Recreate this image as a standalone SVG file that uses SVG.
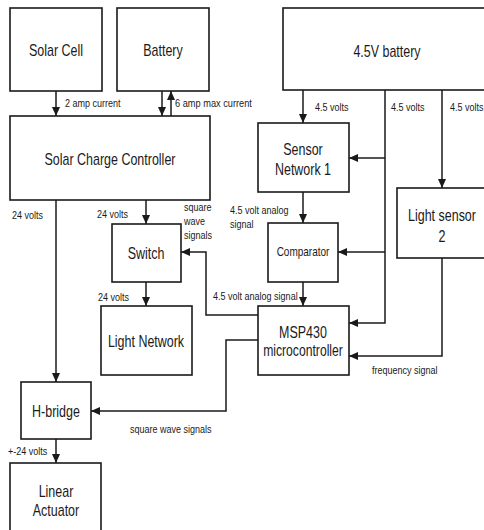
<svg xmlns="http://www.w3.org/2000/svg" width="484" height="530" viewBox="0 0 484 530">
<defs>
<style>
.box{fill:#fff;stroke:#1a1a1a;stroke-width:1.6}
.t{font-family:"Liberation Sans",Arial,sans-serif;font-size:16px;fill:#1a1a1a;text-anchor:middle}
.l{font-family:"Liberation Sans",Arial,sans-serif;font-size:11px;fill:#1a1a1a}
.c{fill:none;stroke:#1a1a1a;stroke-width:1.5}
.a{marker-end:url(#ah)}
</style>
<marker id="ah" markerUnits="userSpaceOnUse" markerWidth="10" markerHeight="10" viewBox="0 0 10 10" refX="9" refY="5" orient="auto">
<path d="M0,1 L9,5 L0,9 Z" fill="#1a1a1a"/>
</marker>
</defs>
<rect width="484" height="530" fill="#fff"/>
<g id="connectors">
<path class="c a" d="M56,91 V116"/>
<path class="c a" d="M162,91 V116"/>
<path class="c a" d="M171,116 V91"/>
<path class="c a" d="M303,90 V123"/>
<path class="c a" d="M385,90 V323 H349"/>
<path class="c a" d="M385,158 H349"/>
<path class="c a" d="M385,252 H338"/>
<path class="c a" d="M442,90 V188"/>
<path class="c a" d="M303,192 V223"/>
<path class="c a" d="M303,282 V306"/>
<path class="c a" d="M442,258 V356 H349"/>
<path class="c a" d="M258,315 H206 V252 H181"/>
<path class="c a" d="M146,200 V224"/>
<path class="c a" d="M146,282 V306"/>
<path class="c a" d="M56,200 V382"/>
<path class="c a" d="M258,340 H226 V411 H91"/>
<path class="c a" d="M56,439 V463"/>
</g>
<g id="labels">
<text class="l" transform="translate(65,107) scale(0.82,1)">2 amp current</text>
<text class="l" transform="translate(175,107) scale(0.84,1)">6 amp max current</text>
<text class="l" transform="translate(315,111) scale(0.82,1)">4.5 volts</text>
<text class="l" transform="translate(391,111) scale(0.82,1)">4.5 volts</text>
<text class="l" transform="translate(450,111) scale(0.82,1)">4.5 volts</text>
<text class="l" transform="translate(12,219) scale(0.82,1)">24 volts</text>
<text class="l" transform="translate(97,218) scale(0.82,1)">24 volts</text>
<text class="l" transform="translate(184,211) scale(0.82,1)">square</text>
<text class="l" transform="translate(184,225) scale(0.82,1)">wave</text>
<text class="l" transform="translate(184,239) scale(0.82,1)">signals</text>
<text class="l" transform="translate(230,214) scale(0.82,1)">4.5 volt analog</text>
<text class="l" transform="translate(230,228) scale(0.82,1)">signal</text>
<text class="l" transform="translate(98,301) scale(0.82,1)">24 volts</text>
<text class="l" transform="translate(213,300) scale(0.82,1)">4.5 volt analog signal</text>
<text class="l" transform="translate(372,374) scale(0.82,1)">frequency signal</text>
<text class="l" transform="translate(130,433) scale(0.82,1)">square wave signals</text>
<text class="l" transform="translate(8,455) scale(0.82,1)">+-24 volts</text>
</g>
<g id="solar-cell"><rect class="box" x="10" y="8" width="92" height="83"/><text class="t" transform="translate(56,56) scale(0.78,1)">Solar Cell</text></g>
<g id="battery"><rect class="box" x="117" y="8" width="92" height="83"/><text class="t" transform="translate(163,56) scale(0.78,1)">Battery</text></g>
<g id="battery-45v"><rect class="box" x="283" y="8" width="210" height="82"/><text class="t" transform="translate(387,57) scale(0.78,1)">4.5V battery</text></g>
<g id="solar-charge-controller"><rect class="box" x="10" y="116" width="200" height="84"/><text class="t" transform="translate(110,165) scale(0.78,1)">Solar Charge Controller</text></g>
<g id="sensor-network-1"><rect class="box" x="258" y="123" width="91" height="69"/><text class="t" transform="translate(303,155) scale(0.78,1)">Sensor</text><text class="t" transform="translate(303,175) scale(0.78,1)">Network 1</text></g>
<g id="light-sensor-2"><rect class="box" x="397" y="188" width="96" height="70"/><text class="t" transform="translate(442,221) scale(0.78,1)">Light sensor</text><text class="t" transform="translate(442,242) scale(0.78,1)">2</text></g>
<g id="comparator"><rect class="box" x="268" y="223" width="70" height="59"/><text class="t" style="font-size:12.5px" transform="translate(303,256) scale(0.8,1)">Comparator</text></g>
<g id="switch"><rect class="box" x="112" y="224" width="69" height="58"/><text class="t" transform="translate(146,259) scale(0.78,1)">Switch</text></g>
<g id="light-network"><rect class="box" x="101" y="306" width="91" height="69"/><text class="t" transform="translate(146,347) scale(0.78,1)">Light Network</text></g>
<g id="msp430"><rect class="box" x="258" y="306" width="91" height="69"/><text class="t" transform="translate(303,338) scale(0.78,1)">MSP430</text><text class="t" transform="translate(303,356) scale(0.76,1)">microcontroller</text></g>
<g id="h-bridge"><rect class="box" x="21" y="382" width="70" height="57"/><text class="t" transform="translate(56,417) scale(0.78,1)">H-bridge</text></g>
<g id="linear-actuator"><rect class="box" x="10" y="463" width="91" height="80"/><text class="t" transform="translate(56,497) scale(0.78,1)">Linear</text><text class="t" transform="translate(56,516) scale(0.78,1)">Actuator</text></g>
</svg>
